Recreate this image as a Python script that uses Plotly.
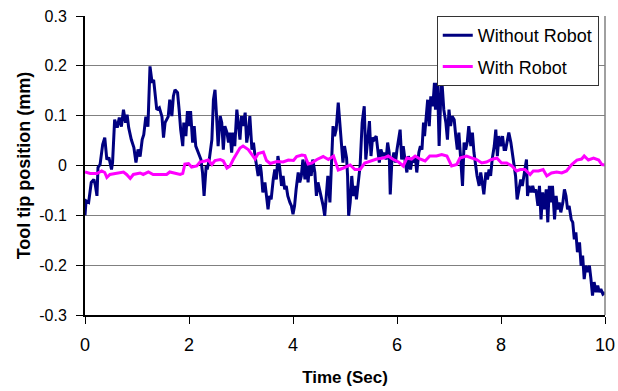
import plotly.graph_objects as go

# ---- data ----
t_without = [0.00, 0.02, 0.07, 0.12, 0.17, 0.20, 0.23, 0.25, 0.29, 0.34, 0.38, 0.42, 0.46, 0.51, 0.53,
             0.57, 0.62, 0.66, 0.70, 0.74, 0.78, 0.81, 0.84, 0.89, 0.94, 0.98, 1.02, 1.06, 1.10, 1.13,
             1.17, 1.21, 1.25, 1.29, 1.32, 1.35, 1.38, 1.43, 1.48, 1.51, 1.54, 1.60, 1.62, 1.63, 1.67,
             1.70, 1.73, 1.78, 1.81, 1.84, 1.88, 1.90, 1.94, 1.97, 2.01, 2.03, 2.07, 2.10, 2.13, 2.18,
             2.23, 2.26, 2.29, 2.33, 2.35, 2.39, 2.44, 2.47, 2.50, 2.53, 2.56, 2.60, 2.63, 2.66, 2.69,
             2.73, 2.76, 2.79, 2.82, 2.85, 2.88, 2.92, 2.95, 2.98, 3.01, 3.04, 3.08, 3.11, 3.14, 3.17,
             3.21, 3.24, 3.27, 3.31, 3.33, 3.37, 3.39, 3.42, 3.46, 3.49, 3.52, 3.55, 3.58, 3.62, 3.65,
             3.68, 3.71, 3.74, 3.78, 3.81, 3.84, 3.87, 3.90, 3.94, 3.97, 4.00, 4.03, 4.06, 4.10, 4.13,
             4.16, 4.19, 4.23, 4.26, 4.29, 4.32, 4.35, 4.38, 4.42, 4.45, 4.48, 4.51, 4.54, 4.58, 4.61,
             4.64, 4.67, 4.71, 4.74, 4.77, 4.80, 4.83, 4.87, 4.90, 4.93, 4.96, 4.99, 5.03, 5.05, 5.07,
             5.10, 5.13, 5.16, 5.20, 5.22, 5.26, 5.29, 5.33, 5.37, 5.40, 5.44, 5.47, 5.50, 5.53, 5.56,
             5.60, 5.63, 5.66, 5.69, 5.73, 5.76, 5.79, 5.82, 5.85, 5.87, 5.90, 5.94, 5.97, 6.00, 6.03,
             6.06, 6.09, 6.12, 6.16, 6.19, 6.22, 6.26, 6.29, 6.32, 6.35, 6.38, 6.42, 6.45, 6.48, 6.51,
             6.53, 6.56, 6.59, 6.62, 6.65, 6.69, 6.72, 6.74, 6.78, 6.81, 6.83, 6.85, 6.87, 6.90, 6.94,
             6.97, 7.00, 7.03, 7.06, 7.10, 7.13, 7.16, 7.19, 7.23, 7.26, 7.29, 7.32, 7.35, 7.38, 7.42,
             7.45, 7.48, 7.51, 7.54, 7.58, 7.61, 7.64, 7.67, 7.71, 7.74, 7.77, 7.80, 7.83, 7.87, 7.90,
             7.93, 7.96, 7.99, 8.03, 8.06, 8.09, 8.12, 8.15, 8.19, 8.22, 8.25, 8.28, 8.31, 8.35, 8.38,
             8.41, 8.46, 8.49, 8.51, 8.54, 8.58, 8.61, 8.64, 8.67, 8.71, 8.74, 8.77, 8.80, 8.83, 8.87,
             8.90, 8.93, 8.96, 8.99, 9.03, 9.06, 9.09, 9.12, 9.15, 9.19, 9.22, 9.25, 9.28, 9.31, 9.35,
             9.38, 9.41, 9.44, 9.47, 9.51, 9.54, 9.57, 9.60, 9.63, 9.67, 9.70, 9.73, 9.76, 9.79, 9.83,
             9.86, 9.89, 9.92, 9.96, 10.00]
v_without = [-0.100, -0.071, -0.074, -0.034, -0.028, -0.040, -0.061, -0.004, 0.002, 0.042, 0.056, 0.012, 0.016, -0.008, 0.006,
             0.092, 0.076, 0.096, 0.078, 0.112, 0.086, 0.102, 0.076, 0.052, 0.036, 0.006, 0.032, 0.018, 0.052, 0.062,
             0.098, 0.078, 0.199, 0.166, 0.172, 0.146, 0.112, 0.116, 0.098, 0.056, 0.086, 0.098, 0.126, 0.132, 0.099,
             0.139, 0.152, 0.146, 0.112, 0.072, 0.039, 0.086, 0.059, 0.109, 0.079, 0.109, 0.046, 0.079, 0.039, 0.026,
             0.012, -0.014, -0.061, -0.001, -0.008, 0.012, 0.052, 0.132, 0.152, 0.099, 0.039, 0.099, 0.086, 0.032, 0.079,
             0.066, 0.046, 0.066, 0.026, 0.066, 0.039, 0.112, 0.086, 0.052, 0.099, 0.079, 0.106, 0.046, 0.066, 0.099,
             0.032, 0.046, 0.019, -0.008, -0.021, 0.002, -0.014, -0.054, -0.034, -0.061, -0.088, -0.061, -0.068, -0.028, -0.008,
             -0.028, 0.019, -0.001, -0.041, -0.021, -0.048, -0.041, -0.061, -0.074, -0.081, -0.098, -0.081, -0.048, -0.014, -0.034,
             -0.021, 0.012, -0.028, 0.012, -0.034, 0.006, -0.021, 0.012, -0.014, -0.061, -0.034, -0.048, -0.061, -0.081, -0.101,
             -0.054, -0.021, -0.074, -0.001, 0.079, 0.059, 0.072, 0.126, 0.079, 0.032, 0.006, 0.039, 0.015, -0.021, -0.101,
             -0.074, -0.021, -0.061, -0.041, -0.068, -0.021, -0.001, 0.086, 0.119, 0.012, 0.059, 0.089, 0.019, 0.056, 0.052,
             0.059, 0.032, 0.006, 0.032, 0.019, 0.026, 0.012, 0.046, 0.026, -0.058, 0.006, 0.026, 0.006, 0.032, 0.052,
             0.072, 0.012, 0.039, 0.006, -0.014, 0.019, -0.008, 0.012, 0.006, 0.019, -0.014, 0.026, 0.039, 0.032, 0.086,
             0.059, 0.099, 0.132, 0.079, 0.139, 0.119, 0.166, 0.112, 0.166, 0.039, 0.099, 0.166, 0.159, 0.112, 0.086,
             0.052, 0.112, 0.079, 0.099, 0.092, 0.059, 0.032, 0.066, 0.012, -0.041, 0.046, 0.032, 0.046, 0.079, 0.039,
             0.066, 0.026, -0.001, -0.021, -0.041, -0.014, -0.034, -0.058, -0.014, -0.028, -0.008, -0.021, 0.012, 0.039, 0.072,
             0.019, 0.059, 0.039, 0.059, 0.032, 0.032, 0.052, 0.066, 0.046, 0.026, -0.001, -0.021, -0.068, -0.048, -0.028,
             -0.041, -0.001, 0.012, -0.061, -0.041, -0.054, -0.041, -0.054, -0.048, -0.081, -0.041, -0.108, -0.054, -0.088, -0.048,
             -0.114, -0.041, -0.074, -0.041, -0.108, -0.061, -0.088, -0.074, -0.094, -0.074, -0.048, -0.061, -0.088, -0.081, -0.108,
             -0.114, -0.148, -0.134, -0.174, -0.154, -0.201, -0.181, -0.228, -0.201, -0.214, -0.201, -0.228, -0.261, -0.234, -0.254,
             -0.241, -0.254, -0.248, -0.258, -0.255]

t_with = [0.00, 0.10, 0.23, 0.32, 0.38, 0.42, 0.48, 0.61, 0.74, 0.80, 0.87, 0.93, 1.06, 1.12, 1.22,
          1.31, 1.57, 1.63, 1.73, 1.83, 1.88, 1.92, 1.99, 2.05, 2.15, 2.21, 2.31, 2.37, 2.44, 2.50,
          2.60, 2.66, 2.73, 2.79, 2.85, 2.92, 2.98, 3.04, 3.14, 3.21, 3.27, 3.33, 3.43, 3.49, 3.56,
          3.69, 3.81, 3.91, 4.01, 4.07, 4.17, 4.23, 4.29, 4.36, 4.46, 4.58, 4.68, 4.78, 4.87, 4.97,
          5.10, 5.19, 5.29, 5.38, 5.51, 5.61, 5.74, 5.83, 5.93, 6.03, 6.12, 6.19, 6.28, 6.35, 6.44,
          6.54, 6.63, 6.76, 6.86, 6.96, 7.05, 7.15, 7.21, 7.34, 7.44, 7.53, 7.63, 7.72, 7.82, 7.92,
          8.01, 8.11, 8.21, 8.30, 8.37, 8.46, 8.56, 8.62, 8.72, 8.81, 8.88, 8.97, 9.07, 9.17, 9.26,
          9.36, 9.46, 9.55, 9.60, 9.68, 9.78, 9.88, 9.94, 10.00]
v_with = [-0.013, -0.016, -0.016, -0.011, -0.014, -0.024, -0.018, -0.016, -0.013, -0.018, -0.026, -0.018, -0.015, -0.018, -0.013,
          -0.018, -0.018, -0.013, -0.016, -0.018, -0.016, 0.003, 0.004, -0.003, -0.001, 0.007, 0.009, 0.011, 0.002, 0.010,
          0.012, 0.009, -0.005, -0.001, 0.012, 0.024, 0.035, 0.039, 0.032, 0.022, 0.013, 0.024, 0.027, 0.010, 0.004,
          0.008, 0.007, 0.011, 0.010, 0.018, 0.021, 0.020, 0.003, 0.005, 0.012, 0.018, 0.012, 0.019, -0.009, -0.005,
          0.001, -0.008, -0.008, 0.005, 0.009, 0.013, 0.015, 0.019, 0.012, 0.007, -0.001, 0.015, 0.013, 0.019, 0.013,
          0.009, 0.019, 0.019, 0.022, 0.019, -0.001, 0.002, 0.015, 0.019, 0.015, 0.012, 0.005, 0.007, 0.012, 0.015,
          0.005, 0.005, -0.001, -0.011, -0.008, -0.008, -0.018, -0.011, -0.011, -0.008, -0.021, -0.015, -0.013, -0.015, -0.011,
          0.002, 0.011, 0.013, 0.019, 0.011, 0.015, 0.011, 0.002, 0.001]

x_tickvals = [0, 2, 4, 6, 8, 10]
x_ticktext = ["0", "2", "4", "6", "8", "10"]
y_tickvals = [-0.3, -0.2, -0.1, 0, 0.1, 0.2, 0.3]
y_ticktext = ["-0.3", "-0.2", "-0.1", "0", "0.1", "0.2", "0.3"]

FONT = "Liberation Sans, Arial, sans-serif"

fig = go.Figure()
fig.add_trace(go.Scatter(x=t_without, y=v_without, mode="lines", name="Without Robot",
                         legendgroup="a", line=dict(color="#000080", width=3)))
fig.add_trace(go.Scatter(x=t_with, y=v_with, mode="lines", name="With Robot",
                         legendgroup="b", line=dict(color="#FF00FF", width=3)))

fig.update_layout(
    width=618, height=391,
    margin=dict(l=85, r=13, t=16, b=76, autoexpand=False),
    paper_bgcolor="white", plot_bgcolor="white",
    font=dict(family=FONT, color="black"),
    showlegend=True,
    legend=dict(x=0.988, y=1.0, xanchor="right", yanchor="top",
                bgcolor="white", bordercolor="#333333", borderwidth=1,
                font=dict(size=18, family=FONT, color="black"),
                tracegroupgap=5),
    xaxis=dict(range=[0, 10], tickvals=x_tickvals, ticktext=x_ticktext,
               showgrid=False, zeroline=False, automargin=False,
               showline=True, linecolor="black", linewidth=2,
               ticks="outside", ticklen=7, tickwidth=1, tickcolor="black",
               tickfont=dict(size=18), ticklabelstandoff=5,
               title=dict(text="<b>Time (Sec)</b>", font=dict(size=17), standoff=18)),
    yaxis=dict(range=[-0.3, 0.3], tickvals=y_tickvals, ticktext=y_ticktext,
               showgrid=True, gridcolor="#808080", gridwidth=1, automargin=False,
               zeroline=True, zerolinecolor="black", zerolinewidth=1,
               showline=True, linecolor="black", linewidth=2,
               ticks="outside", ticklen=7, tickwidth=1, tickcolor="black",
               tickfont=dict(size=16), ticklabelstandoff=6,
               title=dict(text="<b>Tool tip position (mm)</b>", font=dict(size=18), standoff=4)),
    shapes=[dict(type="line", xref="paper", yref="paper", x0=1, x1=1, y0=0, y1=1,
                 line=dict(color="#808080", width=1.5))],
)

fig.write_html("out.html")
